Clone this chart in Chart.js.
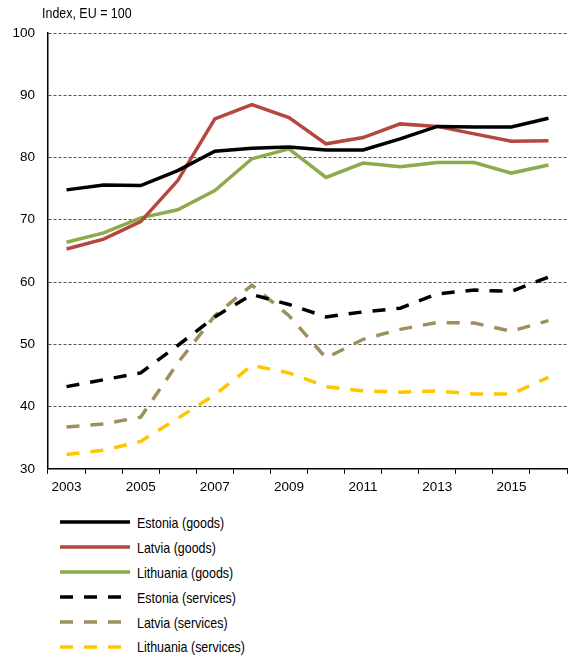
<!DOCTYPE html>
<html>
<head>
<meta charset="utf-8">
<script src="https://cdn.jsdelivr.net/npm/chart.js@4"></script>
<style>
  body { margin: 0; background: #fff; }
  #wrap { position: relative; width: 572px; height: 659px; font-family: 'Liberation Sans', Arial, sans-serif; }
  #unit { position: absolute; left: 42px; top: 4px; font-size: 15px; color: #000; transform: scaleX(0.83); transform-origin: left center; white-space: nowrap; }
  #cv { position: absolute; left: 0; top: 0; }
  #legend { position: absolute; left: 60px; top: 510px; font-size: 15px; }
  .row { height: 24.9px; display: flex; align-items: center; }
  .row svg { margin-right: 7px; }
  .row span { display: inline-block; transform: scaleX(0.83); transform-origin: left center; white-space: nowrap; }
</style>
</head>
<body>
<div id="wrap">
  <canvas id="cv" width="572" height="500"></canvas>
  <div id="unit">Index, EU = 100</div>
  <div id="legend"></div>
</div>
<script>
const years = ['2003', '2004', '2005', '2006', '2007', '2008', '2009', '2010', '2011', '2012', '2013', '2014', '2015', '2016'];

const estoniaGoods = [74.8, 75.6, 75.5, 77.9, 81.0, 81.5, 81.7, 81.2, 81.2, 83.0, 85.0, 84.9, 84.9, 86.3];
const latviaGoods = [65.3, 66.9, 69.7, 76.3, 86.2, 88.5, 86.4, 82.2, 83.2, 85.4, 85.0, 83.8, 82.6, 82.7];
const lithuaniaGoods = [66.4, 67.9, 70.3, 71.6, 74.7, 79.8, 81.4, 76.8, 79.1, 78.5, 79.2, 79.2, 77.5, 78.8];
const estoniaServices = [43.2, 44.3, 45.4, 49.8, 54.4, 58.0, 56.4, 54.4, 55.2, 55.8, 58.1, 58.7, 58.5, 60.8];
const latviaServices = [36.7, 37.2, 38.3, 47.0, 54.6, 59.5, 54.6, 47.8, 50.8, 52.4, 53.5, 53.4, 52.1, 53.8];
const lithuaniaServices = [32.3, 33.0, 34.4, 38.1, 41.9, 46.6, 45.4, 43.2, 42.5, 42.3, 42.5, 42.0, 42.0, 44.7];

const yTicks = [30, 40, 50, 60, 70, 80, 90, 100];

const FONT = "'Liberation Sans', Arial, sans-serif";
const DASH = [13, 11];

const series = [
  { label: 'Estonia (goods)', data: estoniaGoods, color: '#000000', dash: [] },
  { label: 'Latvia (goods)', data: latviaGoods, color: '#b5473f', dash: [] },
  { label: 'Lithuania (goods)', data: lithuaniaGoods, color: '#8dab4a', dash: [] },
  { label: 'Estonia (services)', data: estoniaServices, color: '#000000', dash: DASH },
  { label: 'Latvia (services)', data: latviaServices, color: '#a08f5e', dash: DASH },
  { label: 'Lithuania (services)', data: lithuaniaServices, color: '#ffc600', dash: DASH }
];

new Chart(document.getElementById('cv'), {
  type: 'line',
  data: {
    labels: years,
    datasets: series.map(s => ({
      label: s.label,
      data: s.data,
      borderColor: s.color,
      borderWidth: 3.5,
      borderDash: s.dash,
      pointRadius: 0,
      tension: 0,
      fill: false
    }))
  },
  options: {
    responsive: false,
    animation: false,
    layout: { padding: { top: 33, right: 5, left: 0, bottom: 0 } },
    plugins: { legend: { display: false }, tooltip: { enabled: false } },
    scales: {
      x: {
        offset: true,
        grid: { drawOnChartArea: false, drawTicks: true, tickLength: 5, offset: true, color: '#000' },
        border: { color: '#000', width: 1.5 },
        ticks: {
          autoSkip: false, maxRotation: 0, padding: 5, color: '#000',
          font: { family: FONT, size: 13.5 },
          callback: (v, i) => (i % 2 === 0 ? years[i] : '')
        }
      },
      y: {
        min: 30, max: 100,
        afterFit: s => { s.width = 48; },
        afterBuildTicks: s => { s.ticks = yTicks.map(v => ({ value: v })); },
        grid: { drawTicks: false, color: '#555', lineWidth: 1 },
        border: { color: '#000', width: 1.5, dash: [3, 2] },
        ticks: { padding: 13, color: '#000', font: { family: FONT, size: 13.5 } }
      }
    }
  }
});

// legend list below the chart
const legend = document.getElementById('legend');
series.forEach(s => {
  const row = document.createElement('div');
  row.className = 'row';
  row.innerHTML = '<svg width="70" height="6"><line x1="0" y1="3" x2="70" y2="3" stroke="' + s.color +
    '" stroke-width="3.5" stroke-dasharray="' + (s.dash.length ? s.dash.join(',') : 'none') + '"/></svg><span>' + s.label + '</span>';
  legend.appendChild(row);
});
</script>
</body>
</html>
